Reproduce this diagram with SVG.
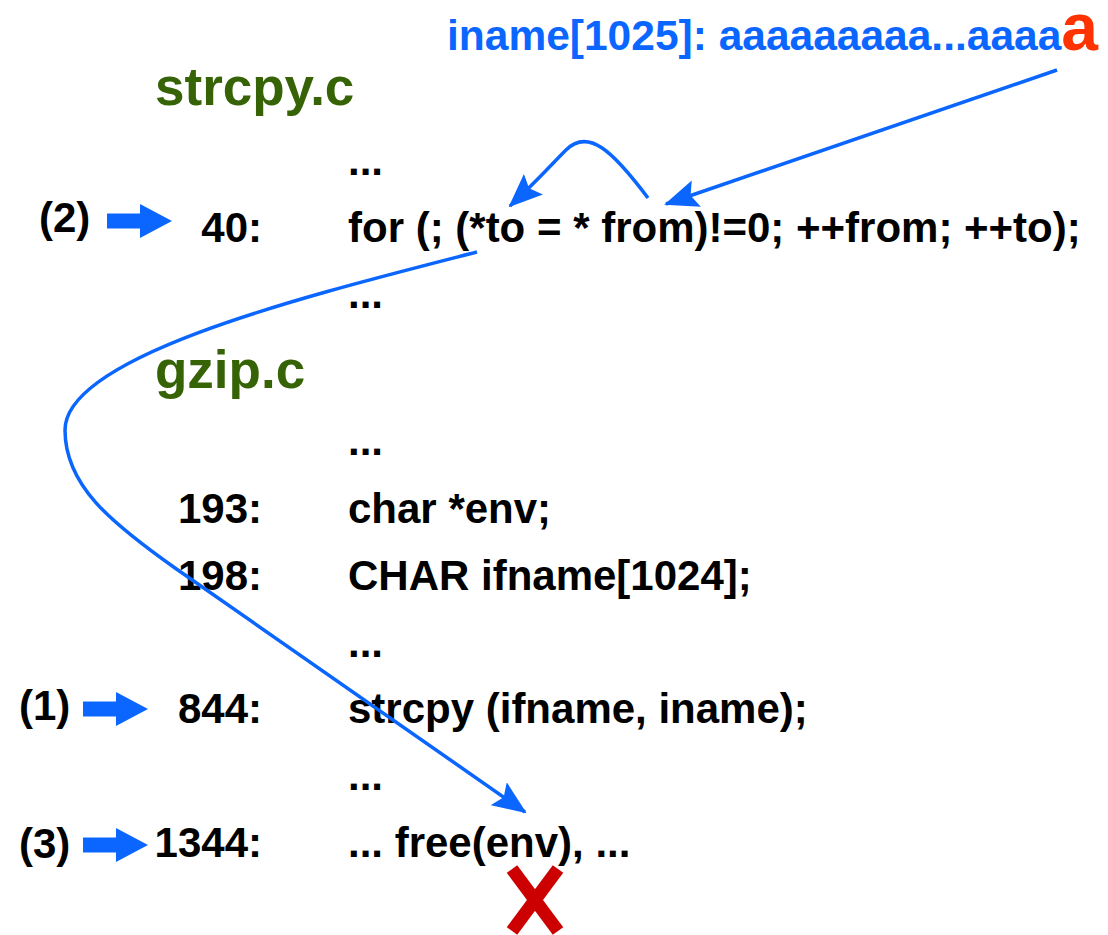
<svg xmlns="http://www.w3.org/2000/svg" width="1108" height="935" viewBox="0 0 1108 935">
  <style>
    text { font-family: "Liberation Sans", Arial, sans-serif; font-weight: bold; }
    .code { font-size: 42px; fill: #000; }
    .num { font-size: 42px; fill: #000; text-anchor: end; }
    .step { font-size: 42px; fill: #000; }
    .file { font-size: 53px; fill: #376307; }
    .input { font-size: 42.5px; fill: #0a66ff; }
    .last { font-size: 66px; fill: #ff3300; }
    .flow { fill: none; stroke: #0a66ff; stroke-width: 3.5; marker-end: url(#head); }
    .pointer { fill: #0a66ff; }
  </style>
  <defs>
    <marker id="head" markerUnits="userSpaceOnUse" markerWidth="34" markerHeight="28" viewBox="0 0 34 28" refX="32" refY="14" orient="auto">
      <path d="M0,0 L34,14 L0,28 L6,14 Z" fill="#0a66ff"/>
    </marker>
    <path id="blockArrow" d="M0,-7.5 L33,-7.5 L33,-17 L65,0 L33,17 L33,7.5 L0,7.5 Z"/>
  </defs>

  <!-- input string -->
  <g id="input">
    <text class="input" x="447" y="50">iname[1025]: aaaaaaaaa...aaaa<tspan class="last">a</tspan></text>
  </g>

  <!-- strcpy.c listing -->
  <g id="strcpy">
    <text class="file" x="155" y="105">strcpy.c</text>
    <text class="code" x="348" y="175">...</text>
    <text class="num" x="262" y="242">40:</text>
    <text class="code" x="348" y="242">for (; (*to = * from)!=0; ++from; ++to);</text>
    <text class="code" x="348" y="308">...</text>
  </g>

  <!-- gzip.c listing -->
  <g id="gzip">
    <text class="file" x="155" y="388">gzip.c</text>
    <text class="code" x="348" y="455">...</text>
    <text class="num" x="262" y="523">193:</text>
    <text class="code" x="348" y="523">char *env;</text>
    <text class="num" x="262" y="590">198:</text>
    <text class="code" x="348" y="590">CHAR ifname[1024];</text>
    <text class="code" x="348" y="657">...</text>
    <text class="num" x="262" y="723">844:</text>
    <text class="code" x="348" y="723">strcpy (ifname, iname);</text>
    <text class="code" x="348" y="790">...</text>
    <text class="num" x="262" y="857">1344:</text>
    <text class="code" x="348" y="857">... free(env), ...</text>
  </g>

  <!-- step markers -->
  <g id="step2">
    <text class="step" x="39" y="232">(2)</text>
    <use href="#blockArrow" class="pointer" transform="translate(107,221)"/>
  </g>
  <g id="step1">
    <text class="step" x="19" y="720">(1)</text>
    <use href="#blockArrow" class="pointer" transform="translate(83,709)"/>
  </g>
  <g id="step3">
    <text class="step" x="19" y="858">(3)</text>
    <use href="#blockArrow" class="pointer" transform="translate(83,845)"/>
  </g>

  <!-- crash mark -->
  <g id="crash">
    <line x1="512" y1="869" x2="558" y2="931" stroke="#cc0000" stroke-width="13"/>
    <line x1="558" y1="869" x2="512" y2="931" stroke="#cc0000" stroke-width="13"/>
  </g>

  <!-- data flow -->
  <g id="connectors">
    <path class="flow" d="M1057,70 L666,204"/>
    <path class="flow" d="M648,198 C612,150 588,128 566,150 C550,166 538,180 510,206"/>
    <path class="flow" d="M477,252 C310,295 65,355 65,430 C65,485 110,522 175,568 L525,812"/>
  </g>
</svg>
